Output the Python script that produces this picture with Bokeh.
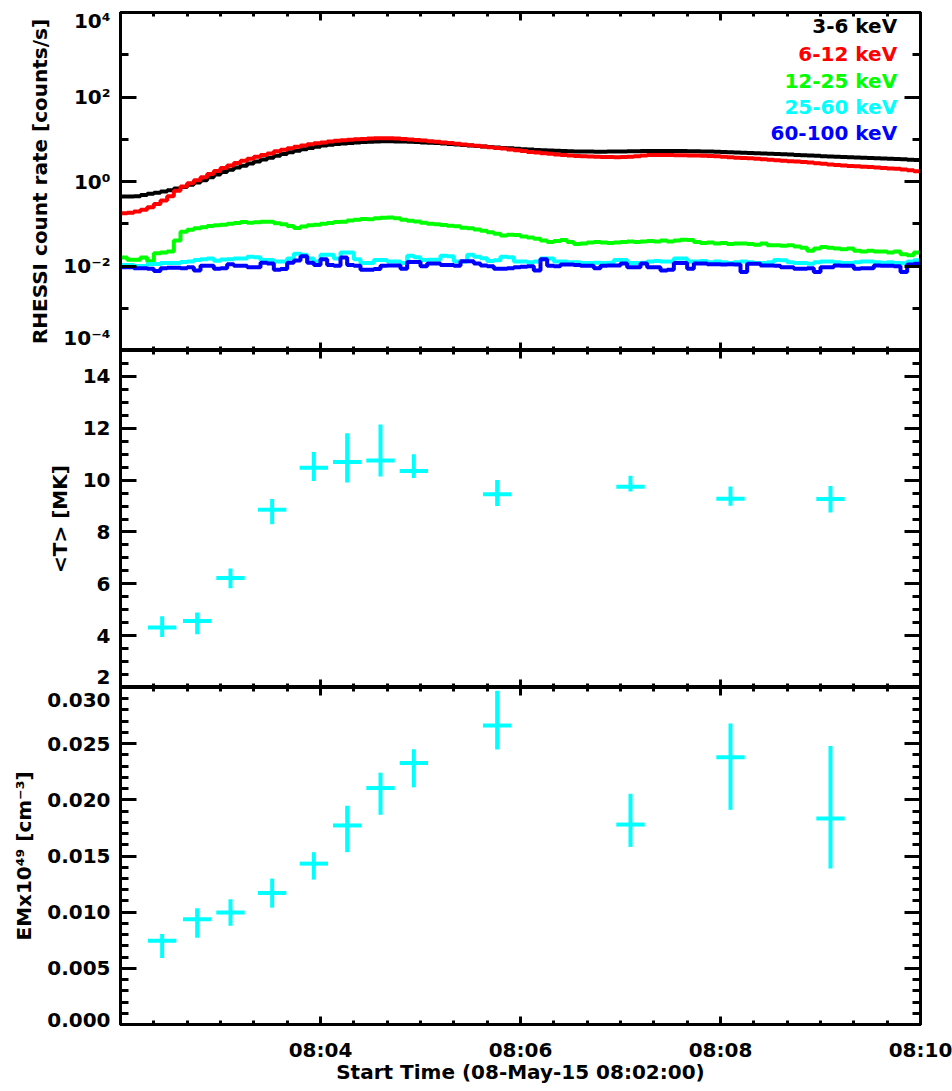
import numpy as np
from bokeh.plotting import figure
from bokeh.layouts import column
from bokeh.models import (Range1d, FixedTicker, LinearAxis, LogAxis, CustomJSTickFormatter,
                          Label, ColumnDataSource)
from bokeh.embed import file_html
from bokeh.resources import INLINE

FONT = "DejaVu Sans"

# ---------------- RHESSI count rates, 4 s bins starting 08:02:00 ----------------
bin_width_s = 4

rate_3_6 = [
    0.44, 0.44, 0.45, 0.48, 0.51, 0.54, 0.58, 0.62, 0.68, 0.74,
    0.84, 0.95, 1.07, 1.26, 1.46, 1.68, 1.91, 2.14, 2.37, 2.66,
    2.98, 3.31, 3.67, 4.07, 4.47, 4.90, 5.37, 5.82, 6.24, 6.68,
    7.08, 7.41, 7.67, 7.94, 8.18, 8.41, 8.61, 8.77, 8.87, 8.91,
    8.91, 8.87, 8.81, 8.71, 8.57, 8.43, 8.28, 8.13, 7.94, 7.76,
    7.53, 7.33, 7.13, 6.92, 6.73, 6.53, 6.38, 6.24, 6.10, 5.96,
    5.82, 5.71, 5.60, 5.50, 5.41, 5.33, 5.27, 5.21, 5.16, 5.13,
    5.11, 5.09, 5.09, 5.11, 5.13, 5.15, 5.19, 5.22, 5.25, 5.27,
    5.28, 5.28, 5.27, 5.26, 5.25, 5.22, 5.20, 5.16, 5.13, 5.08,
    5.01, 4.94, 4.88, 4.81, 4.74, 4.68, 4.61, 4.54, 4.47, 4.40,
    4.33, 4.26, 4.19, 4.12, 4.06, 3.98, 3.92, 3.85, 3.79, 3.73,
    3.68, 3.63, 3.58, 3.53, 3.48, 3.44, 3.39, 3.34, 3.29, 3.24,
]

rate_6_12 = [
    0.178, 0.182, 0.195, 0.214, 0.245, 0.295, 0.355, 0.447, 0.60, 0.76,
    0.91, 1.07, 1.26, 1.51, 1.78, 2.09, 2.40, 2.75, 3.09, 3.47,
    3.85, 4.22, 4.57, 5.19, 5.62, 6.10, 6.61, 7.08, 7.59, 8.04,
    8.41, 8.81, 9.16, 9.44, 9.77, 10.0, 10.2, 10.4, 10.5, 10.6,
    10.5, 10.35, 10.1, 9.84, 9.55, 9.29, 9.02, 8.71, 8.41, 8.13,
    7.85, 7.55, 7.24, 6.97, 6.70, 6.46, 6.24, 6.03, 5.75, 5.50,
    5.25, 5.01, 4.84, 4.68, 4.52, 4.37, 4.25, 4.12, 4.03, 3.95,
    3.89, 3.84, 3.80, 3.78, 3.76, 3.78, 3.85, 3.98, 4.12, 4.22,
    4.25, 4.25, 4.22, 4.19, 4.17, 4.15, 4.12, 4.07, 4.01, 3.94,
    3.85, 3.76, 3.67, 3.61, 3.55, 3.47, 3.37, 3.28, 3.18, 3.09,
    3.02, 2.96, 2.90, 2.82, 2.72, 2.63, 2.54, 2.47, 2.40, 2.34,
    2.29, 2.24, 2.19, 2.14, 2.09, 2.04, 2.00, 1.93, 1.84, 1.76,
]

rate_12_25 = [
    0.016, 0.014, 0.014, 0.016, 0.013, 0.020, 0.021, 0.022, 0.040, 0.065,
    0.072, 0.078, 0.083, 0.088, 0.092, 0.095, 0.100, 0.104, 0.110, 0.105,
    0.108, 0.112, 0.112, 0.103, 0.097, 0.088, 0.079, 0.086, 0.092, 0.095,
    0.100, 0.104, 0.110, 0.112, 0.120, 0.124, 0.130, 0.128, 0.135, 0.138,
    0.140, 0.135, 0.125, 0.118, 0.113, 0.105, 0.100, 0.097, 0.093, 0.090,
    0.087, 0.080, 0.078, 0.073, 0.068, 0.063, 0.058, 0.053, 0.055, 0.054,
    0.050, 0.047, 0.044, 0.040, 0.037, 0.039, 0.041, 0.037, 0.033, 0.034,
    0.036, 0.037, 0.036, 0.035, 0.036, 0.037, 0.038, 0.037, 0.038, 0.039,
    0.038, 0.040, 0.038, 0.040, 0.042, 0.041, 0.037, 0.035, 0.036, 0.034,
    0.035, 0.033, 0.034, 0.034, 0.033, 0.032, 0.034, 0.031, 0.031, 0.030,
    0.031, 0.029, 0.027, 0.023, 0.026, 0.028, 0.027, 0.026, 0.025, 0.026,
    0.023, 0.022, 0.023, 0.022, 0.022, 0.021, 0.022, 0.019, 0.018, 0.021,
]

rate_25_60 = [
    0.0105, 0.0105, 0.0100, 0.0100, 0.0112, 0.0112, 0.0118, 0.0118, 0.0118, 0.0124,
    0.0128, 0.0138, 0.0145, 0.0150, 0.0133, 0.0143, 0.0145, 0.0150, 0.0150, 0.0165,
    0.0162, 0.0138, 0.0138, 0.0127, 0.0127, 0.0150, 0.0195, 0.0185, 0.0150, 0.0127,
    0.0185, 0.0185, 0.0150, 0.0210, 0.0210, 0.0145, 0.0118, 0.0118, 0.0138, 0.0138,
    0.0127, 0.0127, 0.0117, 0.0175, 0.0162, 0.0138, 0.0140, 0.0140, 0.0175, 0.0170,
    0.0127, 0.0127, 0.0185, 0.0165, 0.0153, 0.0132, 0.0136, 0.0165, 0.0162, 0.0127,
    0.0127, 0.0122, 0.0127, 0.0150, 0.0150, 0.0127, 0.0127, 0.0122, 0.0122, 0.0117,
    0.0117, 0.0119, 0.0117, 0.0119, 0.0138, 0.0138, 0.0117, 0.0117, 0.0119, 0.0127,
    0.0132, 0.0127, 0.0127, 0.0150, 0.0150, 0.0127, 0.0127, 0.0132, 0.0122, 0.0127,
    0.0122, 0.0118, 0.0122, 0.0127, 0.0122, 0.0117, 0.0118, 0.0122, 0.0138, 0.0136,
    0.0122, 0.0118, 0.0118, 0.0113, 0.0122, 0.0127, 0.0127, 0.0122, 0.0118, 0.0118,
    0.0122, 0.0127, 0.0127, 0.0122, 0.0120, 0.0122, 0.0118, 0.0116, 0.0127, 0.0136,
]

rate_60_100 = [
    0.0093, 0.0093, 0.0088, 0.0088, 0.0086, 0.0076, 0.0088, 0.0091, 0.0091, 0.0088,
    0.0093, 0.0078, 0.0101, 0.0101, 0.0086, 0.0088, 0.0110, 0.0101, 0.0101, 0.0093,
    0.0093, 0.0120, 0.0115, 0.0082, 0.0085, 0.0120, 0.0135, 0.0170, 0.0120, 0.0105,
    0.0145, 0.0105, 0.0101, 0.0160, 0.0105, 0.0101, 0.0082, 0.0082, 0.0085, 0.0101,
    0.0103, 0.0103, 0.0086, 0.0125, 0.0125, 0.0098, 0.0115, 0.0115, 0.0105, 0.0105,
    0.0101, 0.0130, 0.0130, 0.0115, 0.0103, 0.0098, 0.0086, 0.0086, 0.0088, 0.0093,
    0.0096, 0.0098, 0.0078, 0.0145, 0.0101, 0.0098, 0.0108, 0.0108, 0.0105, 0.0101,
    0.0101, 0.0088, 0.0101, 0.0103, 0.0103, 0.0115, 0.0093, 0.0093, 0.0115, 0.0093,
    0.0093, 0.0078, 0.0082, 0.0118, 0.0118, 0.0086, 0.0115, 0.0115, 0.0110, 0.0110,
    0.0108, 0.0110, 0.0108, 0.0072, 0.0113, 0.0113, 0.0103, 0.0103, 0.0101, 0.0093,
    0.0093, 0.0086, 0.0086, 0.0088, 0.0072, 0.0093, 0.0093, 0.0103, 0.0101, 0.0101,
    0.0086, 0.0088, 0.0088, 0.0103, 0.0101, 0.0101, 0.0098, 0.0072, 0.0108, 0.0113,
]

band_labels = ["3-6 keV", "6-12 keV", "12-25 keV", "25-60 keV", "60-100 keV"]
band_colors = ["#000000", "#ff0000", "#00ff00", "#00ffff", "#0000ff"]
band_rates = [rate_3_6, rate_6_12, rate_12_25, rate_25_60, rate_60_100]

# ---------------- thermal fit results (seconds after 08:02:00) ----------------
fit_time_s = [25, 46, 66, 91, 116, 136, 156, 176, 226, 306, 366, 426]
fit_time_half_s = 8.5

temp_mk = [4.31, 4.57, 6.22, 8.86, 10.48, 10.70, 10.76, 10.35, 9.45, 9.74, 9.28, 9.27]
temp_hi = [4.75, 4.89, 6.59, 9.27, 11.08, 11.81, 12.15, 11.00, 10.00, 10.17, 9.75, 9.77]
temp_lo = [3.95, 4.05, 5.83, 8.30, 9.97, 9.91, 10.14, 10.08, 9.00, 9.56, 9.01, 8.75]

em_49 = [0.00745, 0.00936, 0.00998, 0.01171, 0.01432, 0.01772, 0.02105, 0.02328,
         0.02661, 0.01780, 0.02378, 0.01834]
em_hi = [0.00805, 0.01034, 0.01114, 0.01299, 0.01534, 0.01947, 0.02242, 0.02450,
         0.02970, 0.02054, 0.02679, 0.02480]
em_lo = [0.00591, 0.00772, 0.00879, 0.01040, 0.01290, 0.01534, 0.01867, 0.02111,
         0.02447, 0.01581, 0.01911, 0.01388]

# ---------------- ticks and tick labels ----------------
x_major = [120, 240, 360, 480]
x_minor = list(range(0, 481, 20))

log_major = [1e-4, 1e-2, 1.0, 1e2, 1e4]
log_minor = [1e-3, 1e-1, 1e1, 1e3]
log_tick_text = ["10\u207b\u2074", "10\u207b\u00b2", "10\u2070", "10\u00b2", "10\u2074"]

t_major = [2, 4, 6, 8, 10, 12, 14]
t_minor = list(np.arange(2.0, 15.01, 0.5))
t_tick_text = ["2", "4", "6", "8", "10", "12", "14"]

em_major = [0.000, 0.005, 0.010, 0.015, 0.020, 0.025, 0.030]
em_minor = list(np.arange(0.0, 0.03001, 0.001))
em_tick_text = ["0.000", "0.005", "0.010", "0.015", "0.020", "0.025", "0.030"]

FRAME_H = 337   # px height of each panel's plotting area

x_range = Range1d(0, 480)

hhmm_code = """
const s = 8*3600 + 2*60 + tick;
const h = Math.floor(s/3600), m = Math.floor((s % 3600)/60);
return (h < 10 ? '0' : '') + h + ':' + (m < 10 ? '0' : '') + m;
"""


def style_axis(ax, major_in, minor_in):
    ax.axis_line_width = 3
    ax.axis_line_color = "black"
    ax.major_tick_in = major_in
    ax.major_tick_out = 0
    ax.minor_tick_in = minor_in
    ax.minor_tick_out = 0
    ax.major_tick_line_width = 3
    ax.minor_tick_line_width = 3
    ax.major_tick_line_color = "black"
    ax.minor_tick_line_color = "black"
    ax.major_label_text_font = FONT
    ax.major_label_text_font_style = "bold"
    ax.major_label_text_font_size = "20px"
    ax.major_label_text_color = "black"
    ax.axis_label_text_font = FONT
    ax.axis_label_text_font_style = "bold"
    ax.axis_label_text_font_size = "20px"
    ax.axis_label_text_color = "black"


def hide_labels(ax):
    ax.formatter = CustomJSTickFormatter(code="return '';")
    ax.major_label_text_color = None
    ax.major_label_text_font_size = "0px"
    ax.major_label_standoff = 0
    ax.axis_label = None


def inset_positions(values, lo, hi, log, inset_lo_px, inset_hi_px):
    """Move the first/last label position a few pixels inside the panel."""
    f = np.log10 if log else (lambda v: v)
    lo_t, hi_t = f(lo), f(hi)
    per_px = (hi_t - lo_t) / FRAME_H
    out = []
    for v in values:
        vt = f(v)
        if abs(vt - lo_t) < 1e-9:
            vt = lo_t + inset_lo_px * per_px
        elif abs(vt - hi_t) < 1e-9:
            vt = hi_t - inset_hi_px * per_px
        out.append(10 ** vt if log else vt)
    return out


def make_panel(height, lo, hi, y_type, top, bottom, y_major, y_minor, tick_text, title,
               inset_lo_px=12, inset_hi_px=12):
    p = figure(width=952, height=height, x_range=x_range, y_range=Range1d(lo, hi),
               y_axis_type=y_type, output_backend="svg", toolbar_location=None,
               min_border_left=120, min_border_right=32,
               min_border_top=top, min_border_bottom=bottom)
    p.grid.visible = False
    p.outline_line_color = "black"
    p.outline_line_width = 3
    p.background_fill_color = "white"
    p.border_fill_color = "white"
    log = y_type == "log"

    xt = FixedTicker(ticks=x_major, minor_ticks=x_minor)
    yt = FixedTicker(ticks=y_major, minor_ticks=y_minor)

    bottom_axis = p.below[0]
    bottom_axis.ticker = xt
    style_axis(bottom_axis, 8, 4)
    hide_labels(bottom_axis)

    # tick marks on the left edge
    left_axis = p.left[0]
    left_axis.ticker = yt
    style_axis(left_axis, 16, 8)
    hide_labels(left_axis)

    # tick labels and title on the left, without marks
    positions = inset_positions(y_major, lo, hi, log, inset_lo_px, inset_hi_px)
    label_axis = (LogAxis if log else LinearAxis)(
        ticker=FixedTicker(ticks=positions, minor_ticks=[]),
        formatter=CustomJSTickFormatter(args=dict(labels=tick_text), code="return labels[index];"))
    style_axis(label_axis, 0, 0)
    label_axis.axis_line_color = None
    label_axis.major_tick_line_color = None
    label_axis.minor_tick_line_color = None
    label_axis.major_label_standoff = 10
    label_axis.axis_label = title
    label_axis.axis_label_standoff = 8
    p.add_layout(label_axis, "left")

    top_axis = LinearAxis(ticker=xt)
    style_axis(top_axis, 8, 4)
    hide_labels(top_axis)
    p.add_layout(top_axis, "above")

    right_axis = LogAxis(ticker=yt) if log else LinearAxis(ticker=yt)
    style_axis(right_axis, 16, 8)
    hide_labels(right_axis)
    p.add_layout(right_axis, "right")
    return p


# ---------------- panel 1: light curves ----------------
p1 = make_panel(350, 1e-4, 1e4, "log", 12, 0, log_major, log_minor, log_tick_text,
                "RHESSI count rate [counts/s]", inset_lo_px=12, inset_hi_px=8)

bin_start_s = np.arange(len(rate_3_6)) * bin_width_s
edges = np.append(bin_start_s, bin_start_s[-1] + bin_width_s)
for rates, color in zip(band_rates, band_colors):
    vals = np.append(np.asarray(rates), rates[-1])
    p1.step(x=edges, y=vals, mode="after", line_color=color, line_width=4)

legend_y = [4800, 1040, 245, 58, 14]
for text, color, ly in zip(band_labels, band_colors, legend_y):
    p1.add_layout(Label(x=466, y=ly, text=text, text_align="right", text_baseline="middle",
                        text_color=color, text_font=FONT, text_font_style="bold",
                        text_font_size="20px"))

fit_src = ColumnDataSource(dict(
    t=fit_time_s,
    t0=[t - fit_time_half_s for t in fit_time_s],
    t1=[t + fit_time_half_s for t in fit_time_s],
    temp=temp_mk, temp_hi=temp_hi, temp_lo=temp_lo,
    em=em_49, em_hi=em_hi, em_lo=em_lo,
))

# ---------------- panel 2: temperature ----------------
p2 = make_panel(337, 2, 15, "linear", 0, 0, t_major, t_minor, t_tick_text, "<T> [MK]",
                inset_lo_px=11)
p2.segment(x0="t0", x1="t1", y0="temp", y1="temp", source=fit_src,
           line_color="#00ffff", line_width=4)
p2.segment(x0="t", x1="t", y0="temp_lo", y1="temp_hi", source=fit_src,
           line_color="#00ffff", line_width=4)

# ---------------- panel 3: emission measure ----------------
p3 = make_panel(404, 0.0, 0.030, "linear", 0, 67, em_major, em_minor, em_tick_text,
                "EMx10\u2074\u2079 [cm\u207b\u00b3]", inset_lo_px=5, inset_hi_px=12)
xa = p3.below[0]
xa.formatter = CustomJSTickFormatter(code=hhmm_code)
xa.major_label_text_color = "black"
xa.major_label_text_font_size = "20px"
xa.major_label_standoff = 13
xa.axis_label = "Start Time (08-May-15 08:02:00)"
xa.axis_label_standoff = -5
p3.segment(x0="t0", x1="t1", y0="em", y1="em", source=fit_src,
           line_color="#00ffff", line_width=4)
p3.segment(x0="t", x1="t", y0="em_lo", y1="em_hi", source=fit_src,
           line_color="#00ffff", line_width=4)

layout = column(p1, p2, p3, spacing=0)
open("out.html", "w").write(file_html(layout, INLINE))
